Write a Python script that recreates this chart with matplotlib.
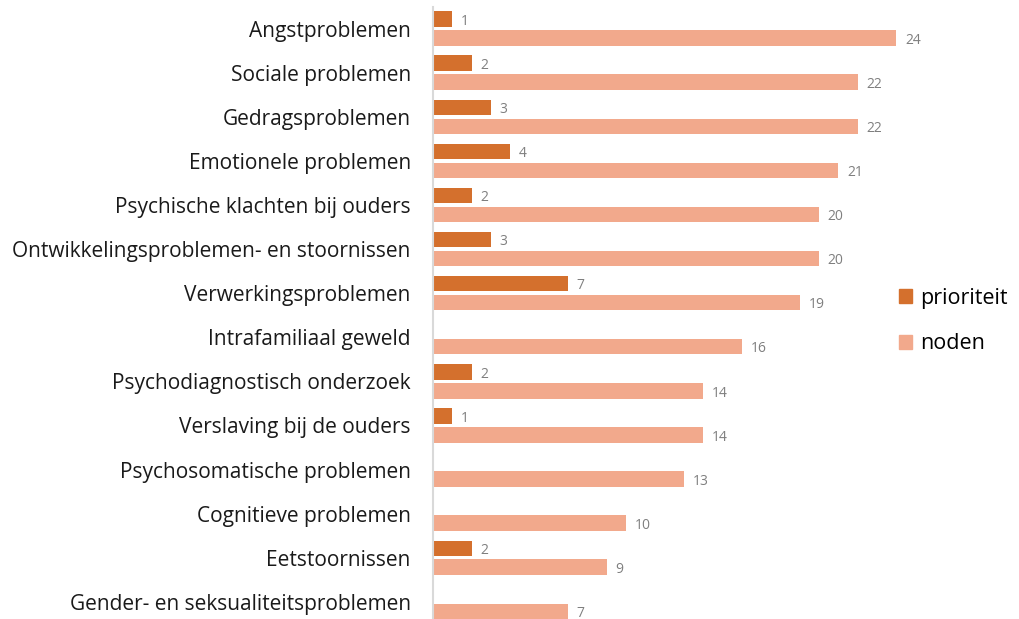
import numpy as np
import matplotlib.pyplot as plt
from matplotlib.patches import Patch

categories = ["Angstproblemen", "Sociale problemen", "Gedragsproblemen",
              "Emotionele problemen", "Psychische klachten bij ouders",
              "Ontwikkelingsproblemen- en stoornissen", "Verwerkingsproblemen",
              "Intrafamiliaal geweld", "Psychodiagnostisch onderzoek",
              "Verslaving bij de ouders", "Psychosomatische problemen",
              "Cognitieve problemen", "Eetstoornissen",
              "Gender- en seksualiteitsproblemen"]
prioriteit = [1, 2, 3, 4, 2, 3, 7, 0, 2, 1, 0, 0, 2, 0]
noden = [24, 22, 22, 21, 20, 20, 19, 16, 14, 14, 13, 10, 9, 7]

c_prio = "#D4702D"
c_noden = "#F2A98C"

plt.rcParams['font.family'] = ['Open Sans', 'DejaVu Sans']

fig = plt.figure(figsize=(10.2, 6.19), dpi=100)
W, H = 1020, 619
x0, x1 = 433, 433 + 26 * 19.3
ytop, ybot = 6.5, 619
ax = fig.add_axes([x0 / W, 1 - ybot / H, (x1 - x0) / W, (ybot - ytop) / H])

y = np.arange(len(categories))
h = 0.35
off = 0.215
for i in range(len(categories)):
    if prioriteit[i] > 0:
        ax.barh(y[i] - off, prioriteit[i], height=h, color=c_prio)
        ax.text(prioriteit[i] + 0.45, y[i] - off + 0.05, str(prioriteit[i]),
                va='center', ha='left', fontsize=10, color="#7f7f7f")
    ax.barh(y[i] + off, noden[i], height=h, color=c_noden)
    ax.text(noden[i] + 0.45, y[i] + off + 0.05, str(noden[i]),
            va='center', ha='left', fontsize=10, color="#7f7f7f")

ax.set_xlim(0, 26)
ax.set_ylim(13.39, -0.5)
ax.set_yticks(y)
ax.set_yticklabels(categories, fontsize=15, color="#1a1a1a")
ax.tick_params(axis='y', length=0, pad=16)
ax.set_xticks([])
for s in ['top', 'right', 'bottom']:
    ax.spines[s].set_visible(False)
ax.spines['left'].set_color("#d9d9d9")
ax.spines['left'].set_linewidth(1.5)

handles = [Patch(color=c_prio, label='prioriteit'), Patch(color=c_noden, label='noden')]
fig.legend(handles=handles, loc='center left', bbox_to_anchor=(880 / W, 1 - 321 / H),
           frameon=False, fontsize=15.5, handlelength=0.6, handleheight=0.6,
           handletextpad=0.35, labelspacing=1.15)

fig.savefig("out.png", dpi=100)
